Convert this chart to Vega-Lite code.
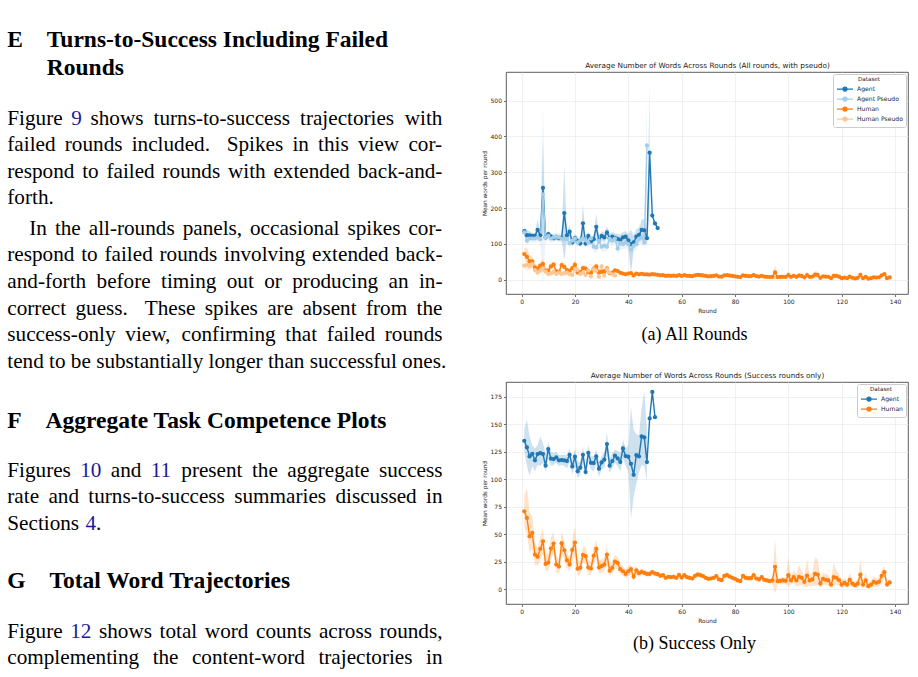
{
  "$schema": "https://vega.github.io/schema/vega-lite/v6.json",
  "background": "white",
  "padding": {"left": 0, "top": 27, "right": 0, "bottom": 0},
  "bounds": "flush",
  "spacing": 56,
  "resolve": {"scale": {"color": "independent"}, "legend": {"color": "independent"}},
  "config": {
    "view": {"stroke": "#333333", "strokeWidth": 0.8},
    "axis": {
      "labelFont": "DejaVu Sans", "labelFontSize": 6, "labelColor": "#262626",
      "titleFont": "DejaVu Sans", "titleFontSize": 5.8, "titleFontWeight": "normal", "titleColor": "#262626",
      "tickColor": "#333333", "tickSize": 2.5, "tickWidth": 0.7, "domain": false,
      "gridColor": "#ebebeb", "gridWidth": 0.7, "labelPadding": 2, "titlePadding": 3
    },
    "legend": {
      "orient": "top-right", "offset": 2, "fillColor": "white", "strokeColor": "#cccccc", "cornerRadius": 2, "padding": 3,
      "titleFont": "DejaVu Sans", "titleFontSize": 5.6, "titleFontWeight": "normal", "titleColor": "#262626", "titleAnchor": "middle", "titlePadding": 1.5,
      "labelFont": "DejaVu Sans", "labelFontSize": 6.1, "labelColor": "#262626", "labelOffset": 7,
      "symbolType": "M-2,0H2M0.5,0A0.5,0.5,0,1,1,-0.5,0A0.5,0.5,0,1,1,0.5,0Z",
      "symbolSize": 64, "symbolOffset": 4, "symbolStrokeWidth": 1.3, "symbolOpacity": 1, "rowPadding": 0
    }
  },
  "datasets": {
    "page": [
      {"line": 0, "x": 7.3, "text": "E", "kind": "heading"},
      {"line": 0, "x": 46.8, "text": "Turns-to-Success Including Failed", "kind": "heading"},
      {"line": 1.06, "x": 46.8, "text": "Rounds", "kind": "heading"},
      {"line": 2.94, "x": 7.3, "text": "Figure", "kind": "text"},
      {"line": 2.94, "x": 71.2, "text": "9", "kind": "link"},
      {"line": 2.94, "x": 90.5, "text": "shows", "kind": "text"},
      {"line": 2.94, "x": 153.5, "text": "turns-to-success", "kind": "text"},
      {"line": 2.94, "x": 300.0, "text": "trajectories", "kind": "text"},
      {"line": 2.94, "x": 404.8, "text": "with", "kind": "text"},
      {"line": 3.91, "x": 7.3, "text": "failed", "kind": "text"},
      {"line": 3.91, "x": 64.79, "text": "rounds", "kind": "text"},
      {"line": 3.91, "x": 131.72, "text": "included.", "kind": "text"},
      {"line": 3.91, "x": 226.63, "text": "Spikes", "kind": "text"},
      {"line": 3.91, "x": 292.39, "text": "in", "kind": "text"},
      {"line": 3.91, "x": 318.1, "text": "this", "kind": "text"},
      {"line": 3.91, "x": 357.95, "text": "view", "kind": "text"},
      {"line": 3.91, "x": 408.38, "text": "cor-", "kind": "text"},
      {"line": 4.92, "x": 7.3, "text": "respond", "kind": "text"},
      {"line": 4.92, "x": 82.19, "text": "to", "kind": "text"},
      {"line": 4.92, "x": 106.45, "text": "failed", "kind": "text"},
      {"line": 4.92, "x": 162.49, "text": "rounds", "kind": "text"},
      {"line": 4.92, "x": 227.97, "text": "with", "kind": "text"},
      {"line": 4.92, "x": 273.43, "text": "extended", "kind": "text"},
      {"line": 4.92, "x": 357.73, "text": "back-and-", "kind": "text"},
      {"line": 5.91, "x": 7.3, "text": "forth.", "kind": "text"},
      {"line": 7.05, "x": 29.3, "text": "In", "kind": "text"},
      {"line": 7.05, "x": 54.89, "text": "the", "kind": "text"},
      {"line": 7.05, "x": 88.73, "text": "all-rounds", "kind": "text"},
      {"line": 7.05, "x": 182.63, "text": "panels,", "kind": "text"},
      {"line": 7.05, "x": 250.03, "text": "occasional", "kind": "text"},
      {"line": 7.05, "x": 347.45, "text": "spikes", "kind": "text"},
      {"line": 7.05, "x": 408.38, "text": "cor-", "kind": "text"},
      {"line": 8.06, "x": 7.3, "text": "respond", "kind": "text"},
      {"line": 8.06, "x": 81.21, "text": "to", "kind": "text"},
      {"line": 8.06, "x": 104.49, "text": "failed", "kind": "text"},
      {"line": 8.06, "x": 159.54, "text": "rounds", "kind": "text"},
      {"line": 8.06, "x": 224.04, "text": "involving", "kind": "text"},
      {"line": 8.06, "x": 312.1, "text": "extended", "kind": "text"},
      {"line": 8.06, "x": 395.42, "text": "back-", "kind": "text"},
      {"line": 9.07, "x": 7.3, "text": "and-forth", "kind": "text"},
      {"line": 9.07, "x": 96.55, "text": "before", "kind": "text"},
      {"line": 9.07, "x": 161.05, "text": "timing", "kind": "text"},
      {"line": 9.07, "x": 226.78, "text": "out", "kind": "text"},
      {"line": 9.07, "x": 264.23, "text": "or", "kind": "text"},
      {"line": 9.07, "x": 292.25, "text": "producing", "kind": "text"},
      {"line": 9.07, "x": 388.58, "text": "an", "kind": "text"},
      {"line": 9.07, "x": 418.95, "text": "in-", "kind": "text"},
      {"line": 10.07, "x": 7.3, "text": "correct", "kind": "text"},
      {"line": 10.07, "x": 75.53, "text": "guess.", "kind": "text"},
      {"line": 10.07, "x": 144.82, "text": "These", "kind": "text"},
      {"line": 10.07, "x": 204.83, "text": "spikes", "kind": "text"},
      {"line": 10.07, "x": 267.2, "text": "are", "kind": "text"},
      {"line": 10.07, "x": 302.47, "text": "absent", "kind": "text"},
      {"line": 10.07, "x": 366.01, "text": "from", "kind": "text"},
      {"line": 10.07, "x": 416.6, "text": "the", "kind": "text"},
      {"line": 11.04, "x": 7.3, "text": "success-only", "kind": "text"},
      {"line": 11.04, "x": 125.3, "text": "view,", "kind": "text"},
      {"line": 11.04, "x": 181.49, "text": "confirming", "kind": "text"},
      {"line": 11.04, "x": 285.37, "text": "that", "kind": "text"},
      {"line": 11.04, "x": 326.85, "text": "failed", "kind": "text"},
      {"line": 11.04, "x": 384.79, "text": "rounds", "kind": "text"},
      {"line": 12.05, "x": 7.3, "text": "tend to be substantially longer than successful ones.", "kind": "text"},
      {"line": 14.3, "x": 7.3, "text": "F", "kind": "heading"},
      {"line": 14.3, "x": 45.5, "text": "Aggregate Task Competence Plots", "kind": "heading"},
      {"line": 16.13, "x": 7.3, "text": "Figures", "kind": "text"},
      {"line": 16.13, "x": 80.25, "text": "10", "kind": "link"},
      {"line": 16.13, "x": 110.8, "text": "and", "kind": "text"},
      {"line": 16.13, "x": 150.77, "text": "11", "kind": "link"},
      {"line": 16.13, "x": 181.32, "text": "present", "kind": "text"},
      {"line": 16.13, "x": 251.9, "text": "the", "kind": "text"},
      {"line": 16.13, "x": 287.17, "text": "aggregate", "kind": "text"},
      {"line": 16.13, "x": 378.92, "text": "success", "kind": "text"},
      {"line": 17.14, "x": 7.3, "text": "rate", "kind": "text"},
      {"line": 17.14, "x": 48.4, "text": "and", "kind": "text"},
      {"line": 17.14, "x": 88.33, "text": "turns-to-success", "kind": "text"},
      {"line": 17.14, "x": 234.24, "text": "summaries", "kind": "text"},
      {"line": 17.14, "x": 335.42, "text": "discussed", "kind": "text"},
      {"line": 17.14, "x": 426.0, "text": "in", "kind": "text"},
      {"line": 18.15, "x": 7.3, "text": "Sections", "kind": "text"},
      {"line": 18.15, "x": 85.5, "text": "4", "kind": "link"},
      {"line": 18.15, "x": 96.1, "text": ".", "kind": "text"},
      {"line": 20.32, "x": 7.3, "text": "G", "kind": "heading"},
      {"line": 20.32, "x": 49.4, "text": "Total Word Trajectories", "kind": "heading"},
      {"line": 22.18, "x": 7.3, "text": "Figure", "kind": "text"},
      {"line": 22.18, "x": 70.23, "text": "12", "kind": "link"},
      {"line": 22.18, "x": 99.01, "text": "shows", "kind": "text"},
      {"line": 22.18, "x": 159.59, "text": "total", "kind": "text"},
      {"line": 22.18, "x": 204.86, "text": "word", "kind": "text"},
      {"line": 22.18, "x": 256.01, "text": "counts", "kind": "text"},
      {"line": 22.18, "x": 318.94, "text": "across", "kind": "text"},
      {"line": 22.18, "x": 379.5, "text": "rounds,", "kind": "text"},
      {"line": 23.18, "x": 7.3, "text": "complementing", "kind": "text"},
      {"line": 23.18, "x": 152.63, "text": "the", "kind": "text"},
      {"line": 23.18, "x": 191.95, "text": "content-word", "kind": "text"},
      {"line": 23.18, "x": 318.41, "text": "trajectories", "kind": "text"},
      {"line": 23.18, "x": 426.01, "text": "in", "kind": "text"}
    ],
    "all": [
      {"series": "Agent", "round": 1, "mean": 135.5, "lo": 127, "hi": 146},
      {"series": "Agent", "round": 2, "mean": 124.4, "lo": 112, "hi": 140},
      {"series": "Agent", "round": 3, "mean": 124, "lo": 114, "hi": 135},
      {"series": "Agent", "round": 4, "mean": 122.6, "lo": 112, "hi": 131},
      {"series": "Agent", "round": 5, "mean": 122.6, "lo": 112, "hi": 131},
      {"series": "Agent", "round": 6, "mean": 139, "lo": 126, "hi": 170},
      {"series": "Agent", "round": 7, "mean": 124, "lo": 115, "hi": 134},
      {"series": "Agent", "round": 8, "mean": 256.5, "lo": 130, "hi": 383},
      {"series": "Agent", "round": 9, "mean": 118, "lo": 108, "hi": 128},
      {"series": "Agent", "round": 10, "mean": 127, "lo": 118, "hi": 136},
      {"series": "Agent", "round": 11, "mean": 120.7, "lo": 112, "hi": 130},
      {"series": "Agent", "round": 12, "mean": 116, "lo": 108, "hi": 125},
      {"series": "Agent", "round": 13, "mean": 119, "lo": 111, "hi": 128},
      {"series": "Agent", "round": 14, "mean": 116, "lo": 108, "hi": 124},
      {"series": "Agent", "round": 15, "mean": 117, "lo": 109, "hi": 126},
      {"series": "Agent", "round": 16, "mean": 186, "lo": 53, "hi": 319},
      {"series": "Agent", "round": 17, "mean": 124, "lo": 114, "hi": 134},
      {"series": "Agent", "round": 18, "mean": 134, "lo": 115, "hi": 153},
      {"series": "Agent", "round": 19, "mean": 104, "lo": 94, "hi": 115},
      {"series": "Agent", "round": 20, "mean": 116, "lo": 105, "hi": 127},
      {"series": "Agent", "round": 21, "mean": 108.6, "lo": 98, "hi": 120},
      {"series": "Agent", "round": 22, "mean": 101, "lo": 92, "hi": 112},
      {"series": "Agent", "round": 23, "mean": 157.5, "lo": 105, "hi": 211},
      {"series": "Agent", "round": 24, "mean": 101, "lo": 90, "hi": 113},
      {"series": "Agent", "round": 25, "mean": 122, "lo": 110, "hi": 134},
      {"series": "Agent", "round": 26, "mean": 107, "lo": 96, "hi": 118},
      {"series": "Agent", "round": 27, "mean": 113, "lo": 100, "hi": 126},
      {"series": "Agent", "round": 28, "mean": 147.6, "lo": 110, "hi": 185},
      {"series": "Agent", "round": 29, "mean": 109.6, "lo": 98, "hi": 121},
      {"series": "Agent", "round": 30, "mean": 122.6, "lo": 110, "hi": 135},
      {"series": "Agent", "round": 31, "mean": 118, "lo": 106, "hi": 130},
      {"series": "Agent", "round": 32, "mean": 132, "lo": 115, "hi": 150},
      {"series": "Agent", "round": 33, "mean": 116, "lo": 104, "hi": 128},
      {"series": "Agent", "round": 34, "mean": 120, "lo": 108, "hi": 133},
      {"series": "Agent", "round": 35, "mean": 117, "lo": 104, "hi": 130},
      {"series": "Agent", "round": 36, "mean": 114, "lo": 100, "hi": 128},
      {"series": "Agent", "round": 37, "mean": 111, "lo": 95, "hi": 127},
      {"series": "Agent", "round": 38, "mean": 118, "lo": 104, "hi": 133},
      {"series": "Agent", "round": 39, "mean": 120, "lo": 104, "hi": 136},
      {"series": "Agent", "round": 40, "mean": 110, "lo": 92, "hi": 128},
      {"series": "Agent", "round": 41, "mean": 99, "lo": 20, "hi": 140},
      {"series": "Agent", "round": 42, "mean": 104, "lo": 85, "hi": 125},
      {"series": "Agent", "round": 43, "mean": 120, "lo": 100, "hi": 140},
      {"series": "Agent", "round": 44, "mean": 125, "lo": 104, "hi": 146},
      {"series": "Agent", "round": 45, "mean": 139, "lo": 110, "hi": 168},
      {"series": "Agent", "round": 46, "mean": 138, "lo": 108, "hi": 170},
      {"series": "Agent", "round": 47, "mean": 116, "lo": 95, "hi": 140},
      {"series": "Agent", "round": 48, "mean": 354.7, "lo": 190, "hi": 550},
      {"series": "Agent", "round": 49, "mean": 179.2, "lo": null, "hi": null},
      {"series": "Agent", "round": 50, "mean": 157, "lo": null, "hi": null},
      {"series": "Agent", "round": 51, "mean": 144, "lo": null, "hi": null},
      {"series": "Agent Pseudo", "round": 1, "mean": 132, "lo": 120, "hi": 143},
      {"series": "Agent Pseudo", "round": 2, "mean": 109, "lo": 97, "hi": 121},
      {"series": "Agent Pseudo", "round": 3, "mean": 115, "lo": 104, "hi": 127},
      {"series": "Agent Pseudo", "round": 4, "mean": 115, "lo": 104, "hi": 126},
      {"series": "Agent Pseudo", "round": 5, "mean": 115, "lo": 104, "hi": 126},
      {"series": "Agent Pseudo", "round": 6, "mean": 118, "lo": 106, "hi": 130},
      {"series": "Agent Pseudo", "round": 7, "mean": 113, "lo": 101, "hi": 125},
      {"series": "Agent Pseudo", "round": 8, "mean": 238, "lo": -15, "hi": 490},
      {"series": "Agent Pseudo", "round": 9, "mean": 118, "lo": 106, "hi": 130},
      {"series": "Agent Pseudo", "round": 10, "mean": 122, "lo": 110, "hi": 134},
      {"series": "Agent Pseudo", "round": 11, "mean": 115, "lo": 103, "hi": 127},
      {"series": "Agent Pseudo", "round": 12, "mean": 118, "lo": 106, "hi": 130},
      {"series": "Agent Pseudo", "round": 13, "mean": 120, "lo": 108, "hi": 132},
      {"series": "Agent Pseudo", "round": 14, "mean": 118, "lo": 106, "hi": 130},
      {"series": "Agent Pseudo", "round": 15, "mean": 115, "lo": 103, "hi": 127},
      {"series": "Agent Pseudo", "round": 16, "mean": 113, "lo": 100, "hi": 126},
      {"series": "Agent Pseudo", "round": 17, "mean": 113, "lo": 100, "hi": 126},
      {"series": "Agent Pseudo", "round": 18, "mean": 102, "lo": 89, "hi": 115},
      {"series": "Agent Pseudo", "round": 19, "mean": 109, "lo": 96, "hi": 122},
      {"series": "Agent Pseudo", "round": 20, "mean": 115, "lo": 102, "hi": 128},
      {"series": "Agent Pseudo", "round": 21, "mean": 104, "lo": 91, "hi": 117},
      {"series": "Agent Pseudo", "round": 22, "mean": 110, "lo": 97, "hi": 123},
      {"series": "Agent Pseudo", "round": 23, "mean": 115, "lo": 102, "hi": 128},
      {"series": "Agent Pseudo", "round": 24, "mean": 110, "lo": 96, "hi": 124},
      {"series": "Agent Pseudo", "round": 25, "mean": 104, "lo": 90, "hi": 118},
      {"series": "Agent Pseudo", "round": 26, "mean": 115, "lo": 101, "hi": 129},
      {"series": "Agent Pseudo", "round": 27, "mean": 92, "lo": 78, "hi": 106},
      {"series": "Agent Pseudo", "round": 28, "mean": 90, "lo": 76, "hi": 104},
      {"series": "Agent Pseudo", "round": 29, "mean": 109, "lo": 95, "hi": 123},
      {"series": "Agent Pseudo", "round": 30, "mean": 92, "lo": 78, "hi": 106},
      {"series": "Agent Pseudo", "round": 31, "mean": 95, "lo": 80, "hi": 110},
      {"series": "Agent Pseudo", "round": 32, "mean": 92, "lo": 77, "hi": 107},
      {"series": "Agent Pseudo", "round": 33, "mean": 115, "lo": 100, "hi": 130},
      {"series": "Agent Pseudo", "round": 34, "mean": 109, "lo": 94, "hi": 124},
      {"series": "Agent Pseudo", "round": 35, "mean": 115, "lo": 100, "hi": 130},
      {"series": "Agent Pseudo", "round": 36, "mean": 87, "lo": 72, "hi": 102},
      {"series": "Agent Pseudo", "round": 37, "mean": 102, "lo": 86, "hi": 118},
      {"series": "Agent Pseudo", "round": 38, "mean": 99, "lo": 83, "hi": 115},
      {"series": "Agent Pseudo", "round": 39, "mean": 104, "lo": 88, "hi": 120},
      {"series": "Agent Pseudo", "round": 40, "mean": 99, "lo": 82, "hi": 116},
      {"series": "Agent Pseudo", "round": 41, "mean": 84, "lo": 20, "hi": 130},
      {"series": "Agent Pseudo", "round": 42, "mean": 95, "lo": 78, "hi": 112},
      {"series": "Agent Pseudo", "round": 43, "mean": 99, "lo": 82, "hi": 116},
      {"series": "Agent Pseudo", "round": 44, "mean": 115, "lo": 97, "hi": 133},
      {"series": "Agent Pseudo", "round": 45, "mean": 118, "lo": 99, "hi": 137},
      {"series": "Agent Pseudo", "round": 46, "mean": 104, "lo": 84, "hi": 124},
      {"series": "Agent Pseudo", "round": 47, "mean": 375, "lo": 200, "hi": 520},
      {"series": "Human", "round": 1, "mean": 71.5, "lo": 58, "hi": 88},
      {"series": "Human", "round": 2, "mean": 64, "lo": 48, "hi": 90},
      {"series": "Human", "round": 3, "mean": 51, "lo": 37, "hi": 68},
      {"series": "Human", "round": 4, "mean": 51, "lo": 38, "hi": 65},
      {"series": "Human", "round": 5, "mean": 34, "lo": 25, "hi": 45},
      {"series": "Human", "round": 6, "mean": 31, "lo": 23, "hi": 40},
      {"series": "Human", "round": 7, "mean": 39, "lo": 29, "hi": 50},
      {"series": "Human", "round": 8, "mean": 44, "lo": 33, "hi": 57},
      {"series": "Human", "round": 9, "mean": 25, "lo": 18, "hi": 33},
      {"series": "Human", "round": 10, "mean": 25, "lo": 18, "hi": 34},
      {"series": "Human", "round": 11, "mean": 37, "lo": 28, "hi": 48},
      {"series": "Human", "round": 12, "mean": 42, "lo": 33, "hi": 52},
      {"series": "Human", "round": 13, "mean": 23, "lo": 16, "hi": 31},
      {"series": "Human", "round": 14, "mean": 22, "lo": 15, "hi": 30},
      {"series": "Human", "round": 15, "mean": 41, "lo": 32, "hi": 52},
      {"series": "Human", "round": 16, "mean": 36, "lo": 28, "hi": 45},
      {"series": "Human", "round": 17, "mean": 27, "lo": 20, "hi": 35},
      {"series": "Human", "round": 18, "mean": 24, "lo": 17, "hi": 31},
      {"series": "Human", "round": 19, "mean": 32, "lo": 24, "hi": 42},
      {"series": "Human", "round": 20, "mean": 42, "lo": 31, "hi": 56},
      {"series": "Human", "round": 21, "mean": 20, "lo": 13, "hi": 28},
      {"series": "Human", "round": 22, "mean": 21, "lo": 14, "hi": 28},
      {"series": "Human", "round": 23, "mean": 32.5, "lo": 25, "hi": 41},
      {"series": "Human", "round": 24, "mean": 31, "lo": 23, "hi": 40},
      {"series": "Human", "round": 25, "mean": 21, "lo": 14, "hi": 29},
      {"series": "Human", "round": 26, "mean": 20, "lo": 14, "hi": 27},
      {"series": "Human", "round": 27, "mean": 31, "lo": 23, "hi": 40},
      {"series": "Human", "round": 28, "mean": 37, "lo": 28, "hi": 47},
      {"series": "Human", "round": 29, "mean": 21, "lo": 15, "hi": 28},
      {"series": "Human", "round": 30, "mean": 22, "lo": 16, "hi": 29},
      {"series": "Human", "round": 31, "mean": 23, "lo": 17, "hi": 30},
      {"series": "Human", "round": 32, "mean": 31.6, "lo": 23, "hi": 41},
      {"series": "Human", "round": 33, "mean": 18, "lo": 13, "hi": 24},
      {"series": "Human", "round": 34, "mean": 20, "lo": 15, "hi": 26},
      {"series": "Human", "round": 35, "mean": 26, "lo": 20, "hi": 32},
      {"series": "Human", "round": 36, "mean": 24, "lo": 19, "hi": 30},
      {"series": "Human", "round": 37, "mean": 19, "lo": 15, "hi": 24},
      {"series": "Human", "round": 38, "mean": 17, "lo": 13, "hi": 22},
      {"series": "Human", "round": 39, "mean": 15, "lo": 11, "hi": 19},
      {"series": "Human", "round": 40, "mean": 17, "lo": 13, "hi": 21},
      {"series": "Human", "round": 41, "mean": 18, "lo": 13, "hi": 24},
      {"series": "Human", "round": 42, "mean": 12, "lo": 9, "hi": 16},
      {"series": "Human", "round": 43, "mean": 17, "lo": 13, "hi": 21},
      {"series": "Human", "round": 44, "mean": 15, "lo": 12, "hi": 19},
      {"series": "Human", "round": 45, "mean": 16, "lo": 13, "hi": 19},
      {"series": "Human", "round": 46, "mean": 15, "lo": 12, "hi": 18},
      {"series": "Human", "round": 47, "mean": 14.5, "lo": 12, "hi": 17},
      {"series": "Human", "round": 48, "mean": 14, "lo": 11.5, "hi": 16.5},
      {"series": "Human", "round": 49, "mean": 15.5, "lo": 13, "hi": 18},
      {"series": "Human", "round": 50, "mean": 14.5, "lo": 12, "hi": 17},
      {"series": "Human", "round": 51, "mean": 13.6, "lo": 11.3, "hi": 16.0},
      {"series": "Human", "round": 52, "mean": 12.1, "lo": 10.0, "hi": 14.3},
      {"series": "Human", "round": 53, "mean": 12.7, "lo": 10.5, "hi": 15.0},
      {"series": "Human", "round": 54, "mean": 10.3, "lo": 8.4, "hi": 12.3},
      {"series": "Human", "round": 55, "mean": 11.2, "lo": 9.2, "hi": 13.3},
      {"series": "Human", "round": 56, "mean": 10.9, "lo": 8.9, "hi": 12.9},
      {"series": "Human", "round": 57, "mean": 11.2, "lo": 9.2, "hi": 13.4},
      {"series": "Human", "round": 58, "mean": 10.3, "lo": 8.3, "hi": 12.4},
      {"series": "Human", "round": 59, "mean": 13.0, "lo": 10.6, "hi": 15.5},
      {"series": "Human", "round": 60, "mean": 10.6, "lo": 8.6, "hi": 12.7},
      {"series": "Human", "round": 61, "mean": 12.7, "lo": 10.4, "hi": 15.1},
      {"series": "Human", "round": 62, "mean": 10.9, "lo": 8.9, "hi": 13.0},
      {"series": "Human", "round": 63, "mean": 10.3, "lo": 8.4, "hi": 12.3},
      {"series": "Human", "round": 64, "mean": 9.7, "lo": 7.9, "hi": 11.6},
      {"series": "Human", "round": 65, "mean": 12.1, "lo": 9.9, "hi": 14.4},
      {"series": "Human", "round": 66, "mean": 13.3, "lo": 10.9, "hi": 15.8},
      {"series": "Human", "round": 67, "mean": 12.7, "lo": 10.4, "hi": 15.1},
      {"series": "Human", "round": 68, "mean": 11.8, "lo": 9.6, "hi": 14.1},
      {"series": "Human", "round": 69, "mean": 10.3, "lo": 8.3, "hi": 12.4},
      {"series": "Human", "round": 70, "mean": 9.4, "lo": 7.5, "hi": 11.4},
      {"series": "Human", "round": 71, "mean": 9.7, "lo": 7.8, "hi": 11.7},
      {"series": "Human", "round": 72, "mean": 10.3, "lo": 8.3, "hi": 12.4},
      {"series": "Human", "round": 73, "mean": 11.8, "lo": 9.5, "hi": 14.2},
      {"series": "Human", "round": 74, "mean": 8.8, "lo": 7.0, "hi": 10.7},
      {"series": "Human", "round": 75, "mean": 8.2, "lo": 6.5, "hi": 10.0},
      {"series": "Human", "round": 76, "mean": 12.1, "lo": 9.7, "hi": 14.6},
      {"series": "Human", "round": 77, "mean": 12.7, "lo": 10.2, "hi": 15.3},
      {"series": "Human", "round": 78, "mean": 11.5, "lo": 9.2, "hi": 13.9},
      {"series": "Human", "round": 79, "mean": 10.3, "lo": 8.2, "hi": 12.5},
      {"series": "Human", "round": 80, "mean": 9.4, "lo": 7.4, "hi": 11.5},
      {"series": "Human", "round": 81, "mean": 7.9, "lo": 6.1, "hi": 9.8},
      {"series": "Human", "round": 82, "mean": 7.3, "lo": 5.6, "hi": 9.1},
      {"series": "Human", "round": 83, "mean": 12.1, "lo": 9.5, "hi": 14.8},
      {"series": "Human", "round": 84, "mean": 10.3, "lo": 8.0, "hi": 12.7},
      {"series": "Human", "round": 85, "mean": 10.0, "lo": 7.8, "hi": 12.3},
      {"series": "Human", "round": 86, "mean": 10.0, "lo": 7.8, "hi": 12.3},
      {"series": "Human", "round": 87, "mean": 12.7, "lo": 9.9, "hi": 15.6},
      {"series": "Human", "round": 88, "mean": 9.7, "lo": 7.5, "hi": 12.0},
      {"series": "Human", "round": 89, "mean": 8.8, "lo": 6.7, "hi": 11.0},
      {"series": "Human", "round": 90, "mean": 10.9, "lo": 8.4, "hi": 13.5},
      {"series": "Human", "round": 91, "mean": 8.5, "lo": 6.4, "hi": 10.7},
      {"series": "Human", "round": 92, "mean": 7.9, "lo": 5.9, "hi": 10.0},
      {"series": "Human", "round": 93, "mean": 7.3, "lo": 5.4, "hi": 9.3},
      {"series": "Human", "round": 94, "mean": 7.9, "lo": 5.8, "hi": 10.1},
      {"series": "Human", "round": 95, "mean": 20.3, "lo": 0, "hi": 42},
      {"series": "Human", "round": 96, "mean": 7.3, "lo": 4.5, "hi": 10.2},
      {"series": "Human", "round": 97, "mean": 7.6, "lo": 4.8, "hi": 10.5},
      {"series": "Human", "round": 98, "mean": 7.9, "lo": 4.9, "hi": 11.0},
      {"series": "Human", "round": 99, "mean": 7.6, "lo": 4.6, "hi": 10.7},
      {"series": "Human", "round": 100, "mean": 12.7, "lo": 4.0, "hi": 24.0},
      {"series": "Human", "round": 101, "mean": 7.9, "lo": 4.5, "hi": 11.5},
      {"series": "Human", "round": 102, "mean": 10.9, "lo": 5.5, "hi": 17.0},
      {"series": "Human", "round": 103, "mean": 7.9, "lo": 3.5, "hi": 13.0},
      {"series": "Human", "round": 104, "mean": 11.2, "lo": 4.0, "hi": 20.0},
      {"series": "Human", "round": 105, "mean": 10.3, "lo": 4.5, "hi": 16.0},
      {"series": "Human", "round": 106, "mean": 6.7, "lo": 3.0, "hi": 11.0},
      {"series": "Human", "round": 107, "mean": 12.4, "lo": 4.0, "hi": 23.0},
      {"series": "Human", "round": 108, "mean": 7.9, "lo": 3.5, "hi": 12.5},
      {"series": "Human", "round": 109, "mean": 8.8, "lo": 4.0, "hi": 14.0},
      {"series": "Human", "round": 110, "mean": 13.9, "lo": 5.0, "hi": 25.0},
      {"series": "Human", "round": 111, "mean": 13.3, "lo": 5.5, "hi": 23.0},
      {"series": "Human", "round": 112, "mean": 5.1, "lo": 2.0, "hi": 9.0},
      {"series": "Human", "round": 113, "mean": 9.4, "lo": 4.5, "hi": 14.5},
      {"series": "Human", "round": 114, "mean": 8.5, "lo": 4.0, "hi": 13.5},
      {"series": "Human", "round": 115, "mean": 7.9, "lo": 3.5, "hi": 12.5},
      {"series": "Human", "round": 116, "mean": 4.2, "lo": 1.5, "hi": 7.5},
      {"series": "Human", "round": 117, "mean": 10.9, "lo": 4.0, "hi": 20.0},
      {"series": "Human", "round": 118, "mean": 10.3, "lo": 5.0, "hi": 16.0},
      {"series": "Human", "round": 119, "mean": 8.2, "lo": 3.5, "hi": 13.0},
      {"series": "Human", "round": 120, "mean": 4.2, "lo": 1.5, "hi": 7.5},
      {"series": "Human", "round": 121, "mean": 5.8, "lo": 2.5, "hi": 9.5},
      {"series": "Human", "round": 122, "mean": 4.2, "lo": 1.5, "hi": 7.5},
      {"series": "Human", "round": 123, "mean": 8.5, "lo": 3.5, "hi": 14.0},
      {"series": "Human", "round": 124, "mean": 5.1, "lo": 2.0, "hi": 8.5},
      {"series": "Human", "round": 125, "mean": 3.6, "lo": 1.5, "hi": 6.5},
      {"series": "Human", "round": 126, "mean": 5.1, "lo": 2.0, "hi": 9.0},
      {"series": "Human", "round": 127, "mean": 13.3, "lo": 4.0, "hi": 24.0},
      {"series": "Human", "round": 128, "mean": 4.2, "lo": 1.5, "hi": 7.5},
      {"series": "Human", "round": 129, "mean": 7.9, "lo": 3.0, "hi": 14.0},
      {"series": "Human", "round": 130, "mean": 2.7, "lo": 1.0, "hi": 5.0},
      {"series": "Human", "round": 131, "mean": 4.2, "lo": 1.5, "hi": 7.5},
      {"series": "Human", "round": 132, "mean": 6.7, "lo": 3.0, "hi": 11.0},
      {"series": "Human", "round": 133, "mean": 5.8, "lo": 2.5, "hi": 9.5},
      {"series": "Human", "round": 134, "mean": 6.7, "lo": 3.0, "hi": 10.5},
      {"series": "Human", "round": 135, "mean": 12.1, "lo": 7.0, "hi": 17.0},
      {"series": "Human", "round": 136, "mean": 15.4, "lo": 10.5, "hi": 20.5},
      {"series": "Human", "round": 137, "mean": 4.2, "lo": 2.0, "hi": 6.5},
      {"series": "Human", "round": 138, "mean": 6.1, "lo": 3.5, "hi": 8.5},
      {"series": "Human Pseudo", "round": 1, "mean": 39, "lo": 30, "hi": 55},
      {"series": "Human Pseudo", "round": 2, "mean": 41, "lo": 25, "hi": 88},
      {"series": "Human Pseudo", "round": 3, "mean": 37, "lo": 26, "hi": 50},
      {"series": "Human Pseudo", "round": 4, "mean": 43.6, "lo": 30, "hi": 58},
      {"series": "Human Pseudo", "round": 5, "mean": 27, "lo": 18, "hi": 36},
      {"series": "Human Pseudo", "round": 6, "mean": 20, "lo": 13, "hi": 28},
      {"series": "Human Pseudo", "round": 7, "mean": 25, "lo": 17, "hi": 33},
      {"series": "Human Pseudo", "round": 8, "mean": 31.6, "lo": 22, "hi": 42},
      {"series": "Human Pseudo", "round": 9, "mean": 22.3, "lo": 15, "hi": 30},
      {"series": "Human Pseudo", "round": 10, "mean": 15.8, "lo": 10, "hi": 22},
      {"series": "Human Pseudo", "round": 11, "mean": 17.6, "lo": 11, "hi": 24},
      {"series": "Human Pseudo", "round": 12, "mean": 22, "lo": 15, "hi": 30},
      {"series": "Human Pseudo", "round": 13, "mean": 16, "lo": 10, "hi": 23},
      {"series": "Human Pseudo", "round": 14, "mean": 20, "lo": 13, "hi": 27},
      {"series": "Human Pseudo", "round": 15, "mean": 16, "lo": 10, "hi": 22},
      {"series": "Human Pseudo", "round": 16, "mean": 18, "lo": 11, "hi": 25},
      {"series": "Human Pseudo", "round": 17, "mean": 20, "lo": 13, "hi": 27},
      {"series": "Human Pseudo", "round": 18, "mean": 16, "lo": 10, "hi": 22},
      {"series": "Human Pseudo", "round": 19, "mean": 13, "lo": 8, "hi": 19},
      {"series": "Human Pseudo", "round": 20, "mean": 29.7, "lo": 20, "hi": 40},
      {"series": "Human Pseudo", "round": 21, "mean": 27, "lo": 18, "hi": 36},
      {"series": "Human Pseudo", "round": 22, "mean": 16, "lo": 10, "hi": 22},
      {"series": "Human Pseudo", "round": 23, "mean": 20, "lo": 13, "hi": 27},
      {"series": "Human Pseudo", "round": 24, "mean": 13, "lo": 8, "hi": 19},
      {"series": "Human Pseudo", "round": 25, "mean": 25, "lo": 16, "hi": 34},
      {"series": "Human Pseudo", "round": 26, "mean": 9.3, "lo": 5, "hi": 14},
      {"series": "Human Pseudo", "round": 27, "mean": 29.7, "lo": 20, "hi": 40},
      {"series": "Human Pseudo", "round": 28, "mean": 25, "lo": 17, "hi": 33},
      {"series": "Human Pseudo", "round": 29, "mean": 8.4, "lo": 4, "hi": 13},
      {"series": "Human Pseudo", "round": 30, "mean": 37, "lo": 25, "hi": 49},
      {"series": "Human Pseudo", "round": 31, "mean": 11, "lo": 6, "hi": 16},
      {"series": "Human Pseudo", "round": 32, "mean": 29.7, "lo": 20, "hi": 40},
      {"series": "Human Pseudo", "round": 33, "mean": 20, "lo": 13, "hi": 27},
      {"series": "Human Pseudo", "round": 34, "mean": 15, "lo": 9, "hi": 21},
      {"series": "Human Pseudo", "round": 35, "mean": 12, "lo": 7, "hi": 17}
    ],
    "success": [
      {"series": "Agent", "round": 1, "mean": 135.0, "lo": 125, "hi": 146},
      {"series": "Agent", "round": 2, "mean": 129.0, "lo": 112, "hi": 154},
      {"series": "Agent", "round": 3, "mean": 120.8, "lo": 103, "hi": 139},
      {"series": "Agent", "round": 4, "mean": 123.2, "lo": 112, "hi": 131},
      {"series": "Agent", "round": 5, "mean": 117.2, "lo": 107, "hi": 128},
      {"series": "Agent", "round": 6, "mean": 122.9, "lo": 113, "hi": 131},
      {"series": "Agent", "round": 7, "mean": 123.8, "lo": 112, "hi": 139},
      {"series": "Agent", "round": 8, "mean": 122.9, "lo": 115, "hi": 133},
      {"series": "Agent", "round": 9, "mean": 112.3, "lo": 107, "hi": 124},
      {"series": "Agent", "round": 10, "mean": 127.5, "lo": 119, "hi": 134},
      {"series": "Agent", "round": 11, "mean": 118.7, "lo": 112, "hi": 125},
      {"series": "Agent", "round": 12, "mean": 118.4, "lo": 113, "hi": 124},
      {"series": "Agent", "round": 13, "mean": 119.9, "lo": 115, "hi": 125},
      {"series": "Agent", "round": 14, "mean": 117.2, "lo": 112, "hi": 122},
      {"series": "Agent", "round": 15, "mean": 117.5, "lo": 113, "hi": 122},
      {"series": "Agent", "round": 16, "mean": 117.2, "lo": 112, "hi": 122},
      {"series": "Agent", "round": 17, "mean": 116.6, "lo": 110, "hi": 122},
      {"series": "Agent", "round": 18, "mean": 122.3, "lo": 116, "hi": 128},
      {"series": "Agent", "round": 19, "mean": 111.7, "lo": 104, "hi": 119},
      {"series": "Agent", "round": 20, "mean": 120.5, "lo": 113, "hi": 128},
      {"series": "Agent", "round": 21, "mean": 107.2, "lo": 101, "hi": 116},
      {"series": "Agent", "round": 22, "mean": 110.5, "lo": 104, "hi": 116},
      {"series": "Agent", "round": 23, "mean": 122.3, "lo": 115, "hi": 130},
      {"series": "Agent", "round": 24, "mean": 106.6, "lo": 103, "hi": 113},
      {"series": "Agent", "round": 25, "mean": 124.1, "lo": 116, "hi": 131},
      {"series": "Agent", "round": 26, "mean": 115.0, "lo": 109, "hi": 121},
      {"series": "Agent", "round": 27, "mean": 114.7, "lo": 107, "hi": 121},
      {"series": "Agent", "round": 28, "mean": 120.8, "lo": 114, "hi": 127},
      {"series": "Agent", "round": 29, "mean": 109.6, "lo": 102, "hi": 116},
      {"series": "Agent", "round": 30, "mean": 115.3, "lo": 109, "hi": 121},
      {"series": "Agent", "round": 31, "mean": 117.8, "lo": 110, "hi": 125},
      {"series": "Agent", "round": 32, "mean": 132.0, "lo": 122, "hi": 142},
      {"series": "Agent", "round": 33, "mean": 112.3, "lo": 106, "hi": 119},
      {"series": "Agent", "round": 34, "mean": 116.6, "lo": 110, "hi": 124},
      {"series": "Agent", "round": 35, "mean": 121.4, "lo": 115, "hi": 127},
      {"series": "Agent", "round": 36, "mean": 119.0, "lo": 112, "hi": 126},
      {"series": "Agent", "round": 37, "mean": 115.6, "lo": 107, "hi": 124},
      {"series": "Agent", "round": 38, "mean": 128.1, "lo": 119, "hi": 136},
      {"series": "Agent", "round": 39, "mean": 121.1, "lo": 112, "hi": 128},
      {"series": "Agent", "round": 40, "mean": 120.5, "lo": 107, "hi": 131},
      {"series": "Agent", "round": 41, "mean": 114.1, "lo": 64, "hi": 165},
      {"series": "Agent", "round": 42, "mean": 104.1, "lo": 84, "hi": 145},
      {"series": "Agent", "round": 43, "mean": 122.0, "lo": 96, "hi": 141},
      {"series": "Agent", "round": 44, "mean": 120.8, "lo": 106, "hi": 140},
      {"series": "Agent", "round": 45, "mean": 139.0, "lo": 113, "hi": 165},
      {"series": "Agent", "round": 46, "mean": 138.1, "lo": 112, "hi": 180},
      {"series": "Agent", "round": 47, "mean": 115.6, "lo": 98, "hi": 145},
      {"series": "Agent", "round": 48, "mean": 155.3, "lo": null, "hi": null},
      {"series": "Agent", "round": 49, "mean": 179.5, "lo": null, "hi": null},
      {"series": "Agent", "round": 50, "mean": 156.5, "lo": null, "hi": null},
      {"series": "Human", "round": 1, "mean": 70.8, "lo": 56, "hi": 86},
      {"series": "Human", "round": 2, "mean": 64.8, "lo": 50, "hi": 92},
      {"series": "Human", "round": 3, "mean": 48.1, "lo": 34, "hi": 70},
      {"series": "Human", "round": 4, "mean": 51.2, "lo": 36, "hi": 66},
      {"series": "Human", "round": 5, "mean": 31.5, "lo": 22, "hi": 42},
      {"series": "Human", "round": 6, "mean": 29.4, "lo": 21, "hi": 38},
      {"series": "Human", "round": 7, "mean": 36.6, "lo": 26, "hi": 48},
      {"series": "Human", "round": 8, "mean": 43.6, "lo": 32, "hi": 56},
      {"series": "Human", "round": 9, "mean": 23.0, "lo": 16, "hi": 31},
      {"series": "Human", "round": 10, "mean": 24.2, "lo": 17, "hi": 33},
      {"series": "Human", "round": 11, "mean": 36.9, "lo": 27, "hi": 47},
      {"series": "Human", "round": 12, "mean": 41.5, "lo": 32, "hi": 52},
      {"series": "Human", "round": 13, "mean": 22.4, "lo": 15, "hi": 30},
      {"series": "Human", "round": 14, "mean": 20.6, "lo": 14, "hi": 28},
      {"series": "Human", "round": 15, "mean": 41.8, "lo": 32, "hi": 52},
      {"series": "Human", "round": 16, "mean": 35.4, "lo": 27, "hi": 44},
      {"series": "Human", "round": 17, "mean": 26.3, "lo": 19, "hi": 34},
      {"series": "Human", "round": 18, "mean": 22.4, "lo": 16, "hi": 29},
      {"series": "Human", "round": 19, "mean": 35.7, "lo": 26, "hi": 46},
      {"series": "Human", "round": 20, "mean": 42.4, "lo": 30, "hi": 57},
      {"series": "Human", "round": 21, "mean": 18.5, "lo": 12, "hi": 26},
      {"series": "Human", "round": 22, "mean": 19.4, "lo": 13, "hi": 26},
      {"series": "Human", "round": 23, "mean": 31.2, "lo": 24, "hi": 39},
      {"series": "Human", "round": 24, "mean": 30.0, "lo": 23, "hi": 38},
      {"series": "Human", "round": 25, "mean": 19.7, "lo": 13, "hi": 27},
      {"series": "Human", "round": 26, "mean": 18.8, "lo": 13, "hi": 25},
      {"series": "Human", "round": 27, "mean": 30.3, "lo": 23, "hi": 38},
      {"series": "Human", "round": 28, "mean": 36.6, "lo": 28, "hi": 45},
      {"series": "Human", "round": 29, "mean": 19.7, "lo": 14, "hi": 26},
      {"series": "Human", "round": 30, "mean": 20.9, "lo": 15, "hi": 27},
      {"series": "Human", "round": 31, "mean": 22.4, "lo": 16, "hi": 29},
      {"series": "Human", "round": 32, "mean": 31.5, "lo": 23, "hi": 40},
      {"series": "Human", "round": 33, "mean": 16.7, "lo": 12, "hi": 22},
      {"series": "Human", "round": 34, "mean": 19.4, "lo": 14, "hi": 25},
      {"series": "Human", "round": 35, "mean": 25.1, "lo": 19, "hi": 31},
      {"series": "Human", "round": 36, "mean": 23.9, "lo": 18, "hi": 30},
      {"series": "Human", "round": 37, "mean": 18.2, "lo": 14, "hi": 23},
      {"series": "Human", "round": 38, "mean": 16.3, "lo": 12, "hi": 21},
      {"series": "Human", "round": 39, "mean": 13.9, "lo": 10, "hi": 18},
      {"series": "Human", "round": 40, "mean": 16.3, "lo": 12, "hi": 21},
      {"series": "Human", "round": 41, "mean": 18.2, "lo": 13, "hi": 23},
      {"series": "Human", "round": 42, "mean": 11.2, "lo": 8, "hi": 15},
      {"series": "Human", "round": 43, "mean": 17.0, "lo": 13, "hi": 21},
      {"series": "Human", "round": 44, "mean": 14.5, "lo": 11, "hi": 18},
      {"series": "Human", "round": 45, "mean": 15.7, "lo": 13.0, "hi": 18.5},
      {"series": "Human", "round": 46, "mean": 14.8, "lo": 12.3, "hi": 17.4},
      {"series": "Human", "round": 47, "mean": 13.9, "lo": 11.5, "hi": 16.4},
      {"series": "Human", "round": 48, "mean": 13.9, "lo": 11.6, "hi": 16.3},
      {"series": "Human", "round": 49, "mean": 15.4, "lo": 12.9, "hi": 18.0},
      {"series": "Human", "round": 50, "mean": 14.2, "lo": 11.9, "hi": 16.6},
      {"series": "Human", "round": 51, "mean": 13.6, "lo": 11.3, "hi": 16.0},
      {"series": "Human", "round": 52, "mean": 12.1, "lo": 10.0, "hi": 14.3},
      {"series": "Human", "round": 53, "mean": 12.7, "lo": 10.5, "hi": 15.0},
      {"series": "Human", "round": 54, "mean": 10.3, "lo": 8.4, "hi": 12.3},
      {"series": "Human", "round": 55, "mean": 11.2, "lo": 9.2, "hi": 13.3},
      {"series": "Human", "round": 56, "mean": 10.9, "lo": 8.9, "hi": 12.9},
      {"series": "Human", "round": 57, "mean": 11.2, "lo": 9.2, "hi": 13.4},
      {"series": "Human", "round": 58, "mean": 10.3, "lo": 8.3, "hi": 12.4},
      {"series": "Human", "round": 59, "mean": 13.0, "lo": 10.6, "hi": 15.5},
      {"series": "Human", "round": 60, "mean": 10.6, "lo": 8.6, "hi": 12.7},
      {"series": "Human", "round": 61, "mean": 12.7, "lo": 10.4, "hi": 15.1},
      {"series": "Human", "round": 62, "mean": 10.9, "lo": 8.9, "hi": 13.0},
      {"series": "Human", "round": 63, "mean": 10.3, "lo": 8.4, "hi": 12.3},
      {"series": "Human", "round": 64, "mean": 9.7, "lo": 7.9, "hi": 11.6},
      {"series": "Human", "round": 65, "mean": 12.1, "lo": 9.9, "hi": 14.4},
      {"series": "Human", "round": 66, "mean": 13.3, "lo": 10.9, "hi": 15.8},
      {"series": "Human", "round": 67, "mean": 12.7, "lo": 10.4, "hi": 15.1},
      {"series": "Human", "round": 68, "mean": 11.8, "lo": 9.6, "hi": 14.1},
      {"series": "Human", "round": 69, "mean": 10.3, "lo": 8.3, "hi": 12.4},
      {"series": "Human", "round": 70, "mean": 9.4, "lo": 7.5, "hi": 11.4},
      {"series": "Human", "round": 71, "mean": 9.7, "lo": 7.8, "hi": 11.7},
      {"series": "Human", "round": 72, "mean": 10.3, "lo": 8.3, "hi": 12.4},
      {"series": "Human", "round": 73, "mean": 11.8, "lo": 9.5, "hi": 14.2},
      {"series": "Human", "round": 74, "mean": 8.8, "lo": 7.0, "hi": 10.7},
      {"series": "Human", "round": 75, "mean": 8.2, "lo": 6.5, "hi": 10.0},
      {"series": "Human", "round": 76, "mean": 12.1, "lo": 9.7, "hi": 14.6},
      {"series": "Human", "round": 77, "mean": 12.7, "lo": 10.2, "hi": 15.3},
      {"series": "Human", "round": 78, "mean": 11.5, "lo": 9.2, "hi": 13.9},
      {"series": "Human", "round": 79, "mean": 10.3, "lo": 8.2, "hi": 12.5},
      {"series": "Human", "round": 80, "mean": 9.4, "lo": 7.4, "hi": 11.5},
      {"series": "Human", "round": 81, "mean": 7.9, "lo": 6.1, "hi": 9.8},
      {"series": "Human", "round": 82, "mean": 7.3, "lo": 5.6, "hi": 9.1},
      {"series": "Human", "round": 83, "mean": 12.1, "lo": 9.5, "hi": 14.8},
      {"series": "Human", "round": 84, "mean": 10.3, "lo": 8.0, "hi": 12.7},
      {"series": "Human", "round": 85, "mean": 10.0, "lo": 7.8, "hi": 12.3},
      {"series": "Human", "round": 86, "mean": 10.0, "lo": 7.8, "hi": 12.3},
      {"series": "Human", "round": 87, "mean": 12.7, "lo": 9.9, "hi": 15.6},
      {"series": "Human", "round": 88, "mean": 9.7, "lo": 7.5, "hi": 12.0},
      {"series": "Human", "round": 89, "mean": 8.8, "lo": 6.7, "hi": 11.0},
      {"series": "Human", "round": 90, "mean": 10.9, "lo": 8.4, "hi": 13.5},
      {"series": "Human", "round": 91, "mean": 8.5, "lo": 6.4, "hi": 10.7},
      {"series": "Human", "round": 92, "mean": 7.9, "lo": 5.9, "hi": 10.0},
      {"series": "Human", "round": 93, "mean": 7.3, "lo": 5.4, "hi": 9.3},
      {"series": "Human", "round": 94, "mean": 7.9, "lo": 5.8, "hi": 10.1},
      {"series": "Human", "round": 95, "mean": 20.3, "lo": -4.0, "hi": 46.0},
      {"series": "Human", "round": 96, "mean": 7.3, "lo": 4.5, "hi": 10.2},
      {"series": "Human", "round": 97, "mean": 7.6, "lo": 4.8, "hi": 10.5},
      {"series": "Human", "round": 98, "mean": 7.9, "lo": 4.9, "hi": 11.0},
      {"series": "Human", "round": 99, "mean": 7.6, "lo": 4.6, "hi": 10.7},
      {"series": "Human", "round": 100, "mean": 12.7, "lo": 2.0, "hi": 29.0},
      {"series": "Human", "round": 101, "mean": 7.9, "lo": 4.5, "hi": 11.5},
      {"series": "Human", "round": 102, "mean": 10.9, "lo": 5.5, "hi": 17.0},
      {"series": "Human", "round": 103, "mean": 7.9, "lo": 2.5, "hi": 14.0},
      {"series": "Human", "round": 104, "mean": 11.2, "lo": 3.0, "hi": 22.0},
      {"series": "Human", "round": 105, "mean": 10.3, "lo": 4.0, "hi": 17.0},
      {"series": "Human", "round": 106, "mean": 6.7, "lo": 2.0, "hi": 12.0},
      {"series": "Human", "round": 107, "mean": 12.4, "lo": 2.0, "hi": 27.0},
      {"series": "Human", "round": 108, "mean": 7.9, "lo": 3.0, "hi": 13.0},
      {"series": "Human", "round": 109, "mean": 8.8, "lo": 3.0, "hi": 15.0},
      {"series": "Human", "round": 110, "mean": 13.9, "lo": 3.0, "hi": 29.0},
      {"series": "Human", "round": 111, "mean": 13.3, "lo": 4.0, "hi": 27.0},
      {"series": "Human", "round": 112, "mean": 5.1, "lo": 1.0, "hi": 10.0},
      {"series": "Human", "round": 113, "mean": 9.4, "lo": 4.0, "hi": 15.0},
      {"series": "Human", "round": 114, "mean": 8.5, "lo": 3.5, "hi": 14.0},
      {"series": "Human", "round": 115, "mean": 7.9, "lo": 3.0, "hi": 13.0},
      {"series": "Human", "round": 116, "mean": 4.2, "lo": 1.0, "hi": 8.0},
      {"series": "Human", "round": 117, "mean": 10.9, "lo": 3.0, "hi": 24.0},
      {"series": "Human", "round": 118, "mean": 10.3, "lo": 4.0, "hi": 17.0},
      {"series": "Human", "round": 119, "mean": 8.2, "lo": 3.0, "hi": 14.0},
      {"series": "Human", "round": 120, "mean": 4.2, "lo": 1.0, "hi": 8.0},
      {"series": "Human", "round": 121, "mean": 5.8, "lo": 2.0, "hi": 10.0},
      {"series": "Human", "round": 122, "mean": 4.2, "lo": 1.0, "hi": 8.0},
      {"series": "Human", "round": 123, "mean": 8.5, "lo": 3.0, "hi": 15.0},
      {"series": "Human", "round": 124, "mean": 5.1, "lo": 1.5, "hi": 9.0},
      {"series": "Human", "round": 125, "mean": 3.6, "lo": 1.0, "hi": 7.0},
      {"series": "Human", "round": 126, "mean": 5.1, "lo": 1.5, "hi": 9.5},
      {"series": "Human", "round": 127, "mean": 13.3, "lo": 3.0, "hi": 27.0},
      {"series": "Human", "round": 128, "mean": 4.2, "lo": 1.0, "hi": 8.0},
      {"series": "Human", "round": 129, "mean": 7.9, "lo": 2.0, "hi": 15.0},
      {"series": "Human", "round": 130, "mean": 2.7, "lo": 0.5, "hi": 5.5},
      {"series": "Human", "round": 131, "mean": 4.2, "lo": 1.0, "hi": 8.0},
      {"series": "Human", "round": 132, "mean": 6.7, "lo": 2.0, "hi": 12.0},
      {"series": "Human", "round": 133, "mean": 5.8, "lo": 2.0, "hi": 10.0},
      {"series": "Human", "round": 134, "mean": 6.7, "lo": 2.5, "hi": 11.0},
      {"series": "Human", "round": 135, "mean": 12.1, "lo": 6.0, "hi": 18.0},
      {"series": "Human", "round": 136, "mean": 15.4, "lo": 10.0, "hi": 21.0},
      {"series": "Human", "round": 137, "mean": 4.2, "lo": 2.0, "hi": 7.0},
      {"series": "Human", "round": 138, "mean": 6.1, "lo": 3.5, "hi": 9.0}
    ]
  },
  "hconcat": [
    {
      "width": 450,
      "height": 606,
      "data": {"name": "page"},
      "view": {"stroke": null},
      "encoding": {
        "x": {"field": "x", "type": "quantitative", "scale": {"domain": [0, 450], "nice": false, "zero": false}, "axis": null},
        "y": {"field": "line", "type": "quantitative", "scale": {"domain": [0.949, 23.69], "nice": false, "zero": false, "reverse": true}, "axis": null},
        "text": {"field": "text"}
      },
      "layer": [
        {
          "transform": [{"filter": "datum.kind === 'heading'"}],
          "mark": {"type": "text", "align": "left", "baseline": "alphabetic", "font": "Liberation Serif", "fontWeight": "bold", "fontSize": 23.5, "color": "#000000"}
        },
        {
          "transform": [{"filter": "datum.kind !== 'heading'"}],
          "mark": {"type": "text", "align": "left", "baseline": "alphabetic", "font": "Liberation Serif", "fontSize": 21.2},
          "encoding": {
            "color": {"field": "kind", "type": "nominal", "scale": {"domain": ["text", "link"], "range": ["#000000", "#1a1a99"]}, "legend": null}
          }
        }
      ]
    },
    {
      "spacing": 88,
      "bounds": "flush",
      "resolve": {"scale": {"color": "independent"}, "legend": {"color": "independent"}},
      "vconcat": [
        {
          "width": 402,
          "height": 222,
          "data": {"name": "all"},
          "title": {"text": "(a) All Rounds", "orient": "bottom", "anchor": "middle", "frame": "bounds", "font": "Liberation Serif", "fontSize": 18, "fontWeight": "normal", "color": "#000000", "offset": 13},
          "layer": [
            {
              "transform": [{"filter": "datum.lo != null"}],
              "mark": {"type": "area", "opacity": 0.22},
              "encoding": {
                "x": {"field": "round", "type": "quantitative", "scale": {"domain": [-5.85, 144.85], "nice": false, "zero": false}, "axis": {"orient": "bottom", "title": "Round", "values": [0, 20, 40, 60, 80, 100, 120, 140]}},
                "y": {"field": "lo", "type": "quantitative", "scale": {"domain": [-40, 580], "nice": false, "zero": false}, "axis": {"title": "Mean words per round", "values": [0, 100, 200, 300, 400, 500]}},
                "y2": {"field": "hi"},
                "color": {"field": "series", "type": "nominal", "scale": {"domain": ["Agent", "Agent Pseudo", "Human", "Human Pseudo"], "range": ["#1f77b4", "#a3cde8", "#ff7f0e", "#fdc692"]},
                  "legend": {"title": "Dataset", "encode": {"symbols": {"update": {"fill": {"signal": "datum.value === 'Agent' ? '#1f77b4' : datum.value === 'Agent Pseudo' ? '#a3cde8' : datum.value === 'Human' ? '#ff7f0e' : '#fdc692'"}, "stroke": {"signal": "datum.value === 'Agent' ? '#1f77b4' : datum.value === 'Agent Pseudo' ? '#a3cde8' : datum.value === 'Human' ? '#ff7f0e' : '#fdc692'"}, "opacity": {"value": 1}}}}}}
              }
            },
            {
              "mark": {"type": "line", "strokeWidth": 1.4, "point": {"filled": true, "size": 18}},
              "encoding": {
                "x": {"field": "round", "type": "quantitative", "axis": {"orient": "top", "title": "Average Number of Words Across Rounds (All rounds, with pseudo)", "titleFontSize": 7.3, "titleColor": "#1a1a1a", "labels": false, "ticks": false, "domain": false, "grid": false, "titlePadding": 3}},
                "y": {"field": "mean", "type": "quantitative", "axis": {"title": "Mean words per round", "values": [0, 100, 200, 300, 400, 500]}},
                "color": {"field": "series", "type": "nominal",
                  "legend": {"title": "Dataset", "encode": {"symbols": {"update": {"fill": {"signal": "datum.value === 'Agent' ? '#1f77b4' : datum.value === 'Agent Pseudo' ? '#a3cde8' : datum.value === 'Human' ? '#ff7f0e' : '#fdc692'"}, "stroke": {"signal": "datum.value === 'Agent' ? '#1f77b4' : datum.value === 'Agent Pseudo' ? '#a3cde8' : datum.value === 'Human' ? '#ff7f0e' : '#fdc692'"}, "opacity": {"value": 1}}}}}}
              }
            }
          ],
          "resolve": {"axis": {"x": "independent"}}
        },
        {
          "width": 402,
          "height": 222,
          "data": {"name": "success"},
          "title": {"text": "(b) Success Only", "orient": "bottom", "anchor": "middle", "frame": "bounds", "font": "Liberation Serif", "fontSize": 18, "fontWeight": "normal", "color": "#000000", "offset": 12},
          "layer": [
            {
              "transform": [{"filter": "datum.lo != null"}],
              "mark": {"type": "area", "opacity": 0.22},
              "encoding": {
                "x": {"field": "round", "type": "quantitative", "scale": {"domain": [-5.85, 144.85], "nice": false, "zero": false}, "axis": {"orient": "bottom", "title": "Round", "values": [0, 20, 40, 60, 80, 100, 120, 140]}},
                "y": {"field": "lo", "type": "quantitative", "scale": {"domain": [-13.5, 188.5], "nice": false, "zero": false}, "axis": {"title": "Mean words per round", "values": [0, 25, 50, 75, 100, 125, 150, 175]}},
                "y2": {"field": "hi"},
                "color": {"field": "series", "type": "nominal", "scale": {"domain": ["Agent", "Human"], "range": ["#1f77b4", "#ff7f0e"]},
                  "legend": {"title": "Dataset", "encode": {"symbols": {"update": {"fill": {"signal": "datum.value === 'Agent' ? '#1f77b4' : '#ff7f0e'"}, "stroke": {"signal": "datum.value === 'Agent' ? '#1f77b4' : '#ff7f0e'"}, "opacity": {"value": 1}}}}}}
              }
            },
            {
              "mark": {"type": "line", "strokeWidth": 1.4, "point": {"filled": true, "size": 18}},
              "encoding": {
                "x": {"field": "round", "type": "quantitative", "axis": {"orient": "top", "title": "Average Number of Words Across Rounds (Success rounds only)", "titleFontSize": 7.3, "titleColor": "#1a1a1a", "labels": false, "ticks": false, "domain": false, "grid": false, "titlePadding": 3}},
                "y": {"field": "mean", "type": "quantitative", "axis": {"title": "Mean words per round", "values": [0, 25, 50, 75, 100, 125, 150, 175]}},
                "color": {"field": "series", "type": "nominal",
                  "legend": {"title": "Dataset", "encode": {"symbols": {"update": {"fill": {"signal": "datum.value === 'Agent' ? '#1f77b4' : '#ff7f0e'"}, "stroke": {"signal": "datum.value === 'Agent' ? '#1f77b4' : '#ff7f0e'"}, "opacity": {"value": 1}}}}}}
              }
            }
          ],
          "resolve": {"axis": {"x": "independent"}}
        }
      ]
    }
  ]
}
